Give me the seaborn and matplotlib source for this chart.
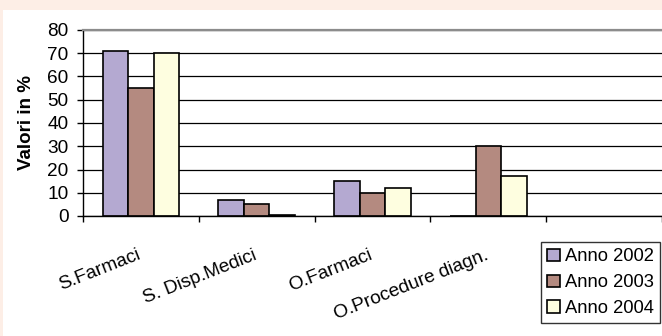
import matplotlib
matplotlib.use("Agg")
import matplotlib.pyplot as plt
import matplotlib.transforms as mtransforms
from matplotlib.patches import Rectangle
import seaborn as sns
import pandas as pd

# ---- data ----
categories = ["S.Farmaci", "S. Disp.Medici", "O.Farmaci", "O.Procedure diagn."]
series = ["Anno 2002", "Anno 2003", "Anno 2004"]
anno_2002 = [71, 7, 15, 0]
anno_2003 = [55, 5, 10, 30]
anno_2004 = [70, 0.5, 12, 17]
y_ticks = [0, 10, 20, 30, 40, 50, 60, 70, 80]
y_label = "Valori in %"

colors = ["#b4a9d1", "#b48a80", "#fefee0"]

sns.set_style("white")
plt.rcParams["font.family"] = ["Liberation Sans", "DejaVu Sans"]
plt.rcParams["text.color"] = "black"
plt.rcParams["axes.labelcolor"] = "black"

rows = []
for s, vals in zip(series, [anno_2002, anno_2003, anno_2004]):
    for c, v in zip(categories, vals):
        rows.append({"Categoria": c, "Serie": s, "Valore": v})
df = pd.DataFrame(rows)

W, H = 662, 336
fig = plt.figure(figsize=(W / 100, H / 100), dpi=100, facecolor="#fdeee6")
fig.patches.append(Rectangle((3 / W, 0), 1, 1 - 10 / H, transform=fig.transFigure,
                             facecolor="white", edgecolor="none", zorder=-5))

ax = fig.add_axes([83 / W, 120 / H, 1 - 83 / W, 186 / H])
ax.set_facecolor("white")

sns.barplot(data=df, x="Categoria", y="Valore", hue="Serie", order=categories,
            hue_order=series, palette=colors, width=0.66, edgecolor="black",
            linewidth=1.2, saturation=1, ax=ax, legend=True, errorbar=None)

ax.set_xlim(-0.5, 4.5)
ax.set_ylim(0, 80)
ax.set_yticks(y_ticks)
ax.set_xlabel("")

bounds = [-0.5 + i for i in range(6)]
ax.set_xticks(bounds, [""] * len(bounds))
ax.set_xticks(range(len(categories)), categories, minor=True)
ax.tick_params(axis="x", which="major", direction="out", length=4.3, width=1,
               color="black", bottom=True)
ax.tick_params(axis="x", which="minor", length=0, pad=22, labelsize=13.7,
               labelcolor="black", bottom=True)
off = mtransforms.ScaledTranslation(-4 / 100, 0, fig.dpi_scale_trans)
for lbl in ax.get_xticklabels(minor=True):
    lbl.set_rotation(21.5)
    lbl.set_ha("right")
    lbl.set_va("top")
    lbl.set_rotation_mode("anchor")
    lbl.set_transform(lbl.get_transform() + off)

ax.tick_params(axis="y", direction="out", length=4.3, width=1, pad=6,
               labelsize=13.7, color="black", labelcolor="black", left=True)

ax.yaxis.grid(True, color="black", linewidth=0.9)
ax.set_axisbelow(True)

for side in ["left", "bottom"]:
    ax.spines[side].set_color("black")
    ax.spines[side].set_linewidth(1.0)
ax.spines["top"].set_color("#8c8c8c")
ax.spines["top"].set_linewidth(1.6)
ax.spines["right"].set_visible(False)

ax.set_ylabel(y_label, fontsize=13.5, fontweight="bold", va="center", color="black")
ax.yaxis.set_label_coords(-0.097, 0.5)

handles, labels = ax.get_legend_handles_labels()
if ax.get_legend() is not None:
    ax.get_legend().remove()
leg = fig.legend(handles, labels, loc="upper left",
                 bbox_to_anchor=(541 / W, 1 - 242 / H), bbox_transform=fig.transFigure,
                 frameon=True, fancybox=False, edgecolor="black", fontsize=13.2,
                 handlelength=0.67, handleheight=0.67, handletextpad=0.3,
                 labelspacing=0.48, borderpad=0.35, borderaxespad=0)
leg.get_frame().set_linewidth(1.0)
leg.get_frame().set_facecolor("white")

fig.savefig("out.png", dpi=100, facecolor=fig.get_facecolor())
